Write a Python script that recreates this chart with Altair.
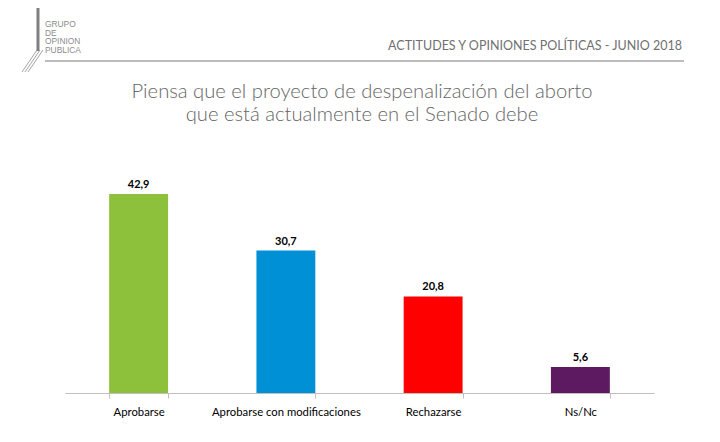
import altair as alt
import pandas as pd

categories = ["Aprobarse", "Aprobarse con modificaciones", "Rechazarse", "Ns/Nc"]
values = [42.9, 30.7, 20.8, 5.6]
labels = ["42,9", "30,7", "20,8", "5,6"]
colors = ["#8DC03B", "#0090D5", "#FF0000", "#5E1A60"]

title_lines = ["Piensa que el proyecto de despenalización del aborto",
               "que está actualmente en el Senado debe"]
header = "ACTITUDES Y OPINIONES POLÍTICAS - JUNIO 2018"
logo_lines = ["GRUPO", "DE", "OPINION", "PUBLICA"]

df = pd.DataFrame({"cat": categories, "val": values, "lab": labels})

FONT = "Lato"
# plot origin in page coordinates
OX, OY = 65, 161

x = alt.X("cat:N", sort=categories, title=None,
          scale=alt.Scale(paddingInner=0.6, paddingOuter=0.3),
          axis=alt.Axis(labelAngle=0, labelFont=FONT, labelFontSize=11.3,
                        labelColor="#000000", labelPadding=8,
                        tickBand="extent", tickSize=5, tickColor="#BFBFBF",
                        domainColor="#BFBFBF", grid=False))
y = alt.Y("val:Q", title=None, scale=alt.Scale(domain=[0, 50]), axis=None)

bars = alt.Chart(df).mark_bar().encode(
    x=x, y=y,
    color=alt.Color("cat:N", sort=categories,
                    scale=alt.Scale(domain=categories, range=colors), legend=None),
)
text = alt.Chart(df).mark_text(dy=-9, baseline="middle", font=FONT, fontSize=11,
                               fontWeight="bold", color="#000000").encode(
    x=x, y=y, text="lab:N")

one = pd.DataFrame({"k": [0]})

def txt(s, px, py, **kw):
    return alt.Chart(one).mark_text(text=s, **kw).encode(
        x=alt.value(px - OX), y=alt.value(py - OY))

title = txt(title_lines, 362, 98, font=FONT, fontSize=20.2, fontWeight=300,
            lineHeight=23, color="#666666", align="center", baseline="alphabetic")

head = txt(header, 682, 46, font=FONT, fontSize=12.5, color="#707070",
           align="right", baseline="middle")

hline = alt.Chart(one).mark_rule(color="#A6A6A6", strokeWidth=1.5).encode(
    x=alt.value(45 - OX), x2=alt.value(684 - OX), y=alt.value(61 - OY))

logo_y = [24, 32.5, 41, 49.5]
logos = [txt(s, 45, ly, font="Liberation Sans", fontSize=8.4, color="#8C8C8C",
             align="left", baseline="middle") for s, ly in zip(logo_lines, logo_y)]

vline = alt.Chart(one).mark_rule(color="#7F7F7F", strokeWidth=3).encode(
    x=alt.value(38 - OX), y=alt.value(-8 - OY), y2=alt.value(51 - OY))

diag = [alt.Chart(one).mark_rule(color="#8C8C8C", strokeWidth=0.8).encode(
    x=alt.value(x0 - OX), y=alt.value(50 - OY),
    x2=alt.value(x0 - 15 - OX), y2=alt.value(72 - OY)) for x0 in (37, 40, 43)]

chart = alt.layer(bars, text, title, head, hline, vline, *diag, *logos).properties(
    width=589, height=232,
    autosize=alt.AutoSizeParams(type="none"),
    padding={"left": OX - 8, "top": OY - 8, "right": 58, "bottom": 40},
).configure(background="#FFFFFF").configure_view(strokeWidth=0, stroke="transparent")

chart.save("out.html", embed_options={"renderer": "svg", "actions": False})
